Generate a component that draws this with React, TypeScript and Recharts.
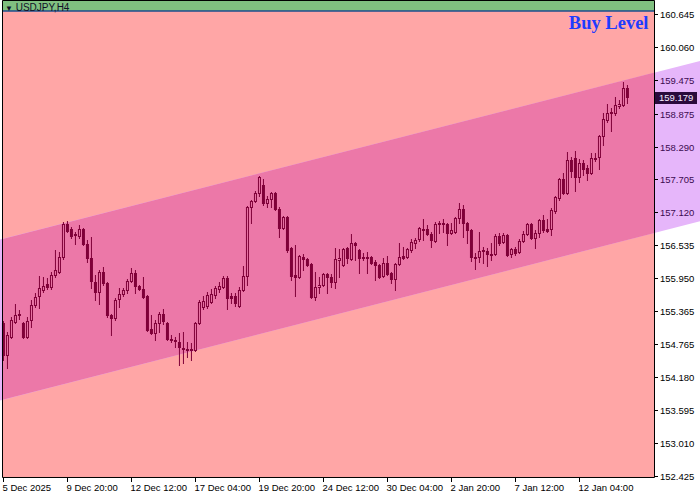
import React from "react";
import { ComposedChart, Bar, Area, XAxis, YAxis, ReferenceLine } from "recharts";

// USDJPY H4, one entry per bar
const openPrices = [
  155.155, 154.584, 154.905, 155.172, 155.297, 155.155, 154.905, 155.208, 155.475, 155.636,
  155.743, 155.849, 155.796, 156.010, 156.063, 156.331, 156.919, 156.830, 156.741, 156.705,
  156.830, 156.563, 156.313, 155.885, 155.707, 156.063, 155.867, 155.297, 155.244, 155.582,
  155.671, 155.743, 155.903, 156.046, 155.814, 155.760, 155.636, 155.048, 154.976, 155.155,
  155.315, 155.155, 154.869, 154.852, 154.816, 154.709, 154.673, 154.691, 154.673, 155.155,
  155.440, 155.458, 155.529, 155.653, 155.760, 155.796, 155.956, 155.636, 155.636, 155.458,
  155.743, 155.992, 157.222, 157.329, 157.472, 157.615, 157.293, 157.365, 157.472, 157.187,
  156.848, 157.044, 156.491, 156.010, 155.974, 156.331, 156.295, 156.206, 155.618, 155.796,
  155.832, 156.028, 155.974, 155.885, 156.277, 156.188, 156.491, 156.295, 156.580, 156.456,
  156.313, 156.331, 156.331, 156.242, 156.188, 155.992, 156.224, 156.046, 155.939, 156.206,
  156.349, 156.331, 156.456, 156.580, 156.652, 156.812, 156.830, 156.741, 156.616, 156.919,
  156.937, 156.919, 156.759, 156.777, 157.026, 157.187, 156.937, 156.812, 156.331, 156.331,
  156.438, 156.438, 156.384, 156.384, 156.705, 156.598, 156.723, 156.384, 156.474, 156.420,
  156.616, 156.741, 156.919, 156.670, 156.759, 156.991, 156.830, 156.830, 157.151, 157.383,
  157.721, 157.472, 158.060, 158.096, 157.757, 158.007, 157.917, 157.828, 158.078, 158.114,
  158.488, 158.773, 158.916, 158.898, 159.023, 159.040, 159.343,
];
const highPrices = [
  155.190, 154.994, 155.261, 155.493, 155.386, 155.172, 155.261, 155.565, 155.689, 155.992,
  155.974, 155.956, 156.063, 156.456, 156.420, 156.955, 156.973, 156.866, 156.777, 156.901,
  156.848, 156.634, 156.688, 156.010, 156.099, 156.153, 155.885, 155.315, 155.600, 155.778,
  155.778, 155.939, 156.135, 156.099, 155.832, 155.974, 155.653, 155.297, 155.208, 155.351,
  155.404, 155.172, 154.941, 154.905, 154.976, 154.994, 154.816, 154.798, 155.172, 155.565,
  155.636, 155.707, 155.760, 155.814, 155.885, 155.992, 155.992, 155.689, 155.689, 155.796,
  156.170, 157.240, 157.347, 157.508, 157.775, 157.721, 157.418, 157.490, 157.490, 157.222,
  157.062, 157.062, 156.509, 156.545, 156.367, 156.384, 156.313, 156.224, 156.063, 155.974,
  156.046, 156.046, 156.028, 156.491, 156.474, 156.491, 156.509, 156.741, 156.598, 156.474,
  156.402, 156.420, 156.349, 156.277, 156.206, 156.313, 156.349, 156.063, 156.224, 156.580,
  156.509, 156.491, 156.652, 156.670, 156.866, 157.008, 156.901, 156.777, 156.955, 156.973,
  157.008, 156.937, 156.937, 157.044, 157.293, 157.258, 156.955, 156.830, 156.402, 156.777,
  156.509, 156.491, 156.580, 156.741, 156.759, 156.759, 156.741, 156.491, 156.509, 156.652,
  156.794, 156.937, 156.937, 156.812, 157.008, 157.080, 157.008, 157.204, 157.418, 157.739,
  157.828, 158.203, 158.114, 158.221, 158.078, 158.060, 157.971, 158.185, 158.185, 158.506,
  158.898, 159.058, 158.987, 159.183, 159.130, 159.450, 159.397,
];
const lowPrices = [
  154.495, 154.353, 154.887, 155.155, 155.226, 154.887, 154.887, 155.083, 155.440, 155.422,
  155.707, 155.760, 155.760, 155.974, 156.046, 156.295, 156.777, 156.670, 156.563, 156.670,
  156.545, 156.242, 155.778, 155.565, 155.493, 155.832, 155.261, 154.941, 155.208, 155.440,
  155.636, 155.689, 155.885, 155.689, 155.743, 155.600, 155.012, 154.959, 154.852, 154.994,
  155.137, 154.852, 154.816, 154.727, 154.406, 154.442, 154.549, 154.495, 154.656, 155.137,
  155.404, 155.422, 155.511, 155.600, 155.707, 155.778, 155.404, 155.511, 155.458, 155.440,
  155.725, 155.832, 156.937, 157.311, 157.418, 157.258, 157.222, 157.222, 157.169, 156.688,
  156.830, 156.420, 155.921, 155.636, 155.956, 156.099, 156.170, 155.600, 155.565, 155.689,
  155.814, 155.689, 155.796, 155.778, 155.974, 156.170, 156.224, 156.277, 156.277, 156.046,
  156.277, 156.046, 156.206, 155.921, 155.956, 155.974, 156.010, 155.867, 155.743, 156.188,
  156.295, 156.313, 156.420, 156.491, 156.616, 156.634, 156.723, 156.509, 156.598, 156.759,
  156.777, 156.545, 156.741, 156.759, 156.937, 156.688, 156.580, 156.260, 156.117, 156.242,
  156.224, 156.170, 156.277, 156.367, 156.545, 156.580, 156.349, 156.331, 156.367, 156.402,
  156.598, 156.723, 156.652, 156.491, 156.688, 156.777, 156.777, 156.723, 157.115, 157.347,
  157.454, 157.454, 157.757, 157.508, 157.668, 157.793, 157.703, 157.810, 158.042, 157.900,
  158.327, 158.737, 158.577, 158.862, 158.987, 159.023, 159.076,
];
const closePrices = [
  154.584, 154.941, 155.208, 155.297, 155.315, 154.905, 155.190, 155.475, 155.618, 155.778,
  155.814, 155.796, 156.010, 156.099, 156.331, 156.919, 156.794, 156.705, 156.723, 156.830,
  156.563, 156.313, 155.903, 155.707, 156.063, 155.867, 155.297, 155.244, 155.565, 155.671,
  155.743, 155.903, 156.046, 155.814, 155.760, 155.618, 155.030, 154.976, 155.155, 155.315,
  155.190, 154.869, 154.852, 154.834, 154.727, 154.691, 154.691, 154.673, 155.155, 155.529,
  155.547, 155.653, 155.671, 155.778, 155.814, 155.956, 155.600, 155.600, 155.511, 155.743,
  155.992, 157.222, 157.329, 157.472, 157.757, 157.293, 157.365, 157.472, 157.187, 156.848,
  157.044, 156.456, 155.992, 155.974, 156.349, 156.295, 156.188, 155.618, 155.796, 155.832,
  156.028, 155.974, 155.885, 156.295, 156.313, 156.474, 156.313, 156.580, 156.545, 156.313,
  156.331, 156.313, 156.224, 156.188, 155.974, 156.224, 156.028, 155.939, 156.206, 156.331,
  156.313, 156.474, 156.598, 156.634, 156.848, 156.830, 156.741, 156.634, 156.919, 156.937,
  156.919, 156.759, 156.812, 157.026, 157.187, 156.937, 156.812, 156.331, 156.313, 156.438,
  156.456, 156.384, 156.375, 156.705, 156.580, 156.723, 156.367, 156.474, 156.402, 156.616,
  156.741, 156.919, 156.670, 156.759, 156.991, 156.812, 156.794, 157.169, 157.400, 157.721,
  157.472, 158.060, 157.864, 157.757, 158.007, 157.900, 157.828, 158.096, 158.096, 158.488,
  158.791, 158.898, 158.889, 159.040, 159.058, 159.343, 159.179,
];

const timeLabels = [
  "5 Dec 2025", "9 Dec 20:00", "12 Dec 12:00", "17 Dec 04:00", "19 Dec 20:00",
  "24 Dec 12:00", "30 Dec 04:00", "2 Jan 20:00", "7 Jan 12:00", "12 Jan 04:00",
];
const timeLabelBars = [0, 16, 32, 48, 64, 80, 96, 112, 128, 144];

const priceTicks = [
  160.645, 160.06, 159.475, 158.875, 158.29, 157.705, 157.12, 156.535,
  155.95, 155.365, 154.765, 154.18, 153.595, 153.01, 152.425,
];
const lastPrice = 159.179;
const buyLevel = 160.716;

// channel object anchors (bar index, price)
const channelBars = [-0.875, 174.125];
const channelUpper = [156.643, 159.825];
const channelLower = [153.773, 156.967];
// where the channel meets the chart frame
const frameBars = [-0.25, 162.75];
const frameChannelUpper = [156.654, 159.618];
const frameChannelLower = [153.785, 156.76];
const frameTop = 160.903;
const frameBottom = 152.401;

const CANDLE = "#7f0038";
const FONT = "Liberation Sans";

const candles = openPrices.map((open, i) => ({
  i,
  open,
  high: highPrices[i],
  low: lowPrices[i],
  close: closePrices[i],
  range: [lowPrices[i], highPrices[i]],
}));

const backBand = frameBars.map((i) => ({ i, band: [frameBottom, frameTop] }));
const topBand = frameBars.map((i) => ({ i, band: [buyLevel, frameTop] }));
const channelBand = channelBars.map((i, k) => ({ i, band: [channelLower[k], channelUpper[k]] }));
const innerBand = frameBars.map((i, k) => ({ i, band: [frameChannelLower[k], frameChannelUpper[k]] }));

const Candle = (props: any) => {
  const { x, y, width, height, payload } = props;
  if (x == null || !payload) return null;
  const top = Math.min(y, y + height);
  const bottom = Math.max(y, y + height);
  const span = payload.high - payload.low;
  const k = span > 0 ? (bottom - top) / span : 0;
  const yOpen = top + (payload.high - payload.open) * k;
  const yClose = top + (payload.high - payload.close) * k;
  const cx = x + width / 2;
  const wTop = Math.round(top);
  const wBot = Math.round(bottom) + 1;
  const bTop = Math.round(Math.min(yOpen, yClose));
  const bBot = Math.max(Math.round(Math.max(yOpen, yClose)), bTop);
  const up = payload.close >= payload.open;
  if (!up || bBot - bTop < 2) {
    return (
      <g>
        <line x1={cx} x2={cx} y1={wTop} y2={wBot} stroke={CANDLE} strokeWidth={1} />
        <rect x={cx - 1.5} y={bTop} width={3} height={bBot - bTop + 1} fill={CANDLE} />
      </g>
    );
  }
  return (
    <g>
      <line x1={cx} x2={cx} y1={wTop} y2={bTop} stroke={CANDLE} strokeWidth={1} />
      <line x1={cx} x2={cx} y1={bBot + 1} y2={wBot} stroke={CANDLE} strokeWidth={1} />
      <rect x={cx - 1} y={bTop + 0.5} width={2} height={bBot - bTop} fill="none" stroke={CANDLE} strokeWidth={1} />
    </g>
  );
};

const TimeTick = (props: any) => {
  const { x, y, payload } = props;
  const label = timeLabels[timeLabelBars.indexOf(payload.value)];
  return (
    <g>
      <line x1={x} x2={x} y1={y} y2={y + 4} stroke="#000" />
      <text x={x - 1} y={y + 13} fontSize={9.5} fontFamily={FONT} fill="#000">
        {label}
      </text>
    </g>
  );
};

const PriceTick = (props: any) => {
  const { y, payload } = props;
  const v = payload.value;
  const py = Math.floor(y) + 0.5;
  if (v === lastPrice) {
    return (
      <g>
        <rect x={655} y={Math.floor(y) - 5} width={42} height={12} fill="#2a0a3c" />
        <text x={659} y={y + 3.5} fontSize={9.5} fontFamily={FONT} fill="#f4eaff">
          {v.toFixed(3)}
        </text>
      </g>
    );
  }
  const inChannel = v > channelLower[1] && v < channelUpper[1];
  return (
    <g>
      <line x1={654} x2={658} y1={py} y2={py} stroke="#000" />
      <text x={660} y={y + 3.5} fontSize={9.5} fontFamily={FONT} fill={inChannel ? "#3c0a50" : "#000"}>
        {v.toFixed(3)}
      </text>
    </g>
  );
};

const BuyLabel = (props: any) => {
  const vb = props.viewBox || {};
  const right = (vb.x || 0) + (vb.width || 0);
  return (
    <text
      x={right - 6}
      y={(vb.y || 0) + 18}
      textAnchor="end"
      fontSize={18.5}
      fontWeight="bold"
      fontFamily="Liberation Serif"
      fill="#1e3cff"
    >
      Buy Level
    </text>
  );
};

export default function App() {
  return (
    <div style={{ position: "fixed", left: 0, top: 0, width: 700, height: 500, background: "#fff" }}>
      <ComposedChart width={700} height={500} data={candles} margin={{ top: 0, right: 0, bottom: 0, left: 0 }}>
        <XAxis
          dataKey="i"
          type="number"
          domain={[-0.875, 174.125]}
          ticks={timeLabelBars}
          interval={0}
          height={22}
          axisLine={false}
          tickLine={false}
          tickSize={0}
          tickMargin={0}
          tick={TimeTick}
        />
        <YAxis
          type="number"
          orientation="right"
          mirror
          domain={[152.392, 160.912]}
          ticks={[...priceTicks, lastPrice]}
          interval={0}
          axisLine={false}
          tickLine={false}
          tick={PriceTick}
        />
        <Area data={backBand} dataKey="band" type="linear" stroke="none" fill="#ffa6a6" fillOpacity={1} isAnimationActive={false} dot={false} activeDot={false} />
        <Area data={channelBand} dataKey="band" type="linear" stroke="none" fill="#e6b6fa" fillOpacity={1} isAnimationActive={false} dot={false} activeDot={false} />
        <Area data={innerBand} dataKey="band" type="linear" stroke="none" fill="#ec78a8" fillOpacity={1} isAnimationActive={false} dot={false} activeDot={false} />
        <Area data={topBand} dataKey="band" type="linear" stroke="none" fill="#80c080" fillOpacity={1} isAnimationActive={false} dot={false} activeDot={false} />
        <Bar dataKey="range" barSize={4} shape={Candle} isAnimationActive={false} />
        <ReferenceLine
          segment={[{ x: frameBars[0], y: buyLevel }, { x: frameBars[1], y: buyLevel }]}
          stroke="#1c4c8c"
          strokeWidth={1.5}
          label={BuyLabel}
        />
        <ReferenceLine segment={[{ x: frameBars[0], y: frameTop }, { x: frameBars[1], y: frameTop }]} stroke="#000" />
        <ReferenceLine segment={[{ x: frameBars[0], y: frameBottom }, { x: frameBars[1], y: frameBottom }]} stroke="#000" />
        <ReferenceLine segment={[{ x: frameBars[0], y: frameBottom }, { x: frameBars[0], y: frameTop }]} stroke="#000" />
        <ReferenceLine segment={[{ x: frameBars[1], y: frameBottom }, { x: frameBars[1], y: frameTop }]} stroke="#000" />
      </ComposedChart>
      <div
        style={{
          position: "absolute",
          left: 5,
          top: 2,
          fontFamily: FONT,
          fontSize: 10,
          lineHeight: "11px",
          color: "#101028",
          whiteSpace: "nowrap",
        }}
      >
        <span style={{ fontSize: 8 }}>▼</span> USDJPY,H4
      </div>
    </div>
  );
}
